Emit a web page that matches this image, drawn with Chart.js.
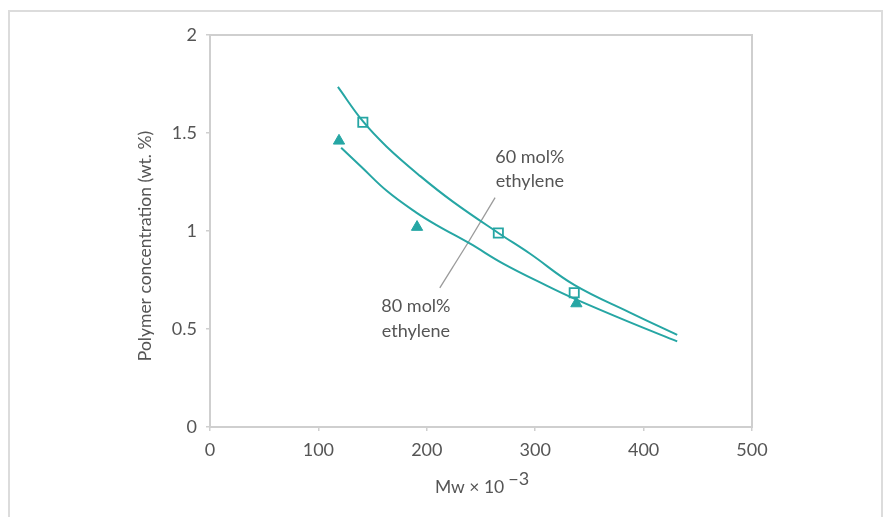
<!DOCTYPE html>
<html>
<head>
<meta charset="utf-8">
<script src="https://cdn.jsdelivr.net/npm/chart.js@4/dist/chart.umd.min.js"></script>
<style>
  html, body { margin: 0; padding: 0; background: #fff; }
  #wrap { width: 884px; height: 517px; }
</style>
</head>
<body>
<div id="wrap"><canvas id="chart" width="884" height="517"></canvas></div>
<script>
// measured points (Mw x 10^-3, wt. %)
const squares60 = [[141, 1.555], [266, 0.99], [336, 0.685]];
const triangles80 = [[119, 1.46], [191, 1.02], [338, 0.63]];

// fitted curves
const curve60 = [[118, 1.735], [141, 1.56], [163, 1.43], [194, 1.28], [224, 1.15],
  [266, 0.99], [295, 0.885], [336, 0.725], [387, 0.585], [431, 0.47]];
const curve80 = [[121, 1.425], [140, 1.325], [163, 1.205], [190, 1.095], [209, 1.03],
  [240, 0.935], [270, 0.835], [311, 0.72], [336, 0.655], [387, 0.535], [431, 0.437]];

// leader lines for the labels
const leader60 = [[263, 1.17], [238, 0.94]];
const leader80 = [[212, 0.71], [238, 0.94]];

const labelTexts = ['60 mol%', 'ethylene', '80 mol%', 'ethylene'];
const labelX = [295, 295, 190, 190];
const labelY = [1.378, 1.255, 0.617, 0.49];

const xTicks = [0, 100, 200, 300, 400, 500];
const yTicks = [0, 0.5, 1, 1.5, 2];

const teal = '#26a6a4';
const textGray = '#555';
const FONT = 'Lato, "Open Sans", sans-serif';

const toXY = arr => arr.map(p => ({ x: p[0], y: p[1] }));

const decor = {
  id: 'decor',
  beforeDraw(chart) {
    const c = chart.ctx;
    c.save();
    c.strokeStyle = '#dcdcdc';
    c.lineWidth = 2;
    c.beginPath();
    c.moveTo(9, 520);
    c.lineTo(9, 11);
    c.lineTo(882, 11);
    c.lineTo(882, 520);
    c.stroke();
    c.restore();
  },
  afterDatasetsDraw(chart) {
    const c = chart.ctx;
    const a = chart.chartArea;
    const xs = chart.scales.x, ys = chart.scales.y;
    c.save();
    c.strokeStyle = '#cfcfcf';
    c.lineWidth = 2;
    c.strokeRect(a.left, a.top, a.right - a.left, a.bottom - a.top);

    c.fillStyle = textGray;
    c.font = '18px ' + FONT;
    c.textAlign = 'center';
    c.textBaseline = 'middle';
    labelTexts.forEach((t, i) => {
      c.fillText(t, xs.getPixelForValue(labelX[i]), ys.getPixelForValue(labelY[i]));
    });

    // y axis title, sits a bit below the plot centre in the original
    c.save();
    c.font = '17.5px ' + FONT;
    c.translate(145, 246);
    c.rotate(-Math.PI / 2);
    c.fillText('Polymer concentration (wt. %)', 0, 0);
    c.restore();

    // x axis title with superscript
    c.font = '17.5px ' + FONT;
    c.textAlign = 'left';
    const base = 'Mw \u00d7 10';
    const sup = '\u22123';
    const w1 = c.measureText(base).width;
    const start = 435;
    c.fillText(base, start, 487);
    c.font = '18px ' + FONT;
    c.fillText(sup, start + w1 + 4, 479);
    c.restore();
  }
};

new Chart(document.getElementById('chart'), {
  type: 'scatter',
  data: {
    datasets: [
      { data: toXY(curve60), showLine: true, borderColor: teal, borderWidth: 2,
        pointRadius: 0, tension: 0.4 },
      { data: toXY(curve80), showLine: true, borderColor: teal, borderWidth: 2,
        pointRadius: 0, tension: 0.4 },
      { data: toXY(leader60), showLine: true, borderColor: '#9a9a9a', borderWidth: 1.3, pointRadius: 0 },
      { data: toXY(leader80), showLine: true, borderColor: '#9a9a9a', borderWidth: 1.3, pointRadius: 0 },
      { data: toXY(squares60), pointStyle: 'rect', pointRadius: 6.5, borderColor: teal,
        backgroundColor: '#fff', borderWidth: 1.8 },
      { data: toXY(triangles80), pointStyle: 'triangle', pointRadius: 6.5, borderColor: teal,
        backgroundColor: teal, borderWidth: 1 }
    ]
  },
  options: {
    responsive: false,
    animation: false,
    layout: { padding: { left: 131, right: 132, top: 35, bottom: 0 } },
    plugins: { legend: { display: false }, tooltip: { enabled: false } },
    scales: {
      x: {
        type: 'linear', min: 0, max: 500,
        afterBuildTicks: s => { s.ticks = xTicks.map(v => ({ value: v })); },
        afterFit: s => { s.height = 90; },
        grid: { drawOnChartArea: false, drawTicks: true, tickLength: 4, color: '#cfcfcf', lineWidth: 1.5 },
        border: { display: false },
        ticks: { color: textGray, font: { family: FONT, size: 18 }, padding: 8, maxRotation: 0 }
      },
      y: {
        type: 'linear', min: 0, max: 2,
        afterBuildTicks: s => { s.ticks = yTicks.map(v => ({ value: v })); },
        afterFit: s => { s.width = 79; },
        grid: { drawOnChartArea: false, drawTicks: true, tickLength: 4, color: '#cfcfcf', lineWidth: 1.5 },
        border: { display: false },
        ticks: { color: textGray, font: { family: FONT, size: 18 }, padding: 9,
          callback: v => String(v) }
      }
    }
  },
  plugins: [decor]
});
</script>
</body>
</html>
